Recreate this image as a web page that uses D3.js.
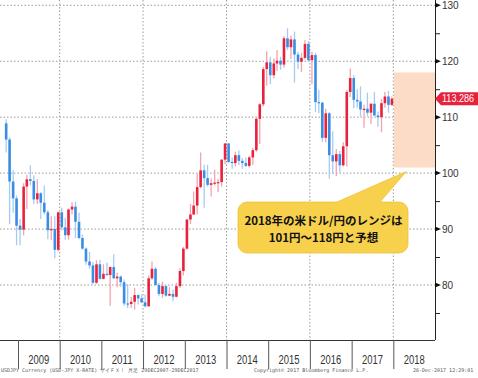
<!DOCTYPE html>
<html>
<head>
<meta charset="utf-8">
<script src="https://cdn.jsdelivr.net/npm/d3@7"></script>
<style>
  body { margin: 0; background: #fff; }
  svg { display: block; }
  .grid line { stroke: #9a9a9a; stroke-dasharray: 1.5,2; }
  .yearLabel { font-family: 'Liberation Sans', Arial, sans-serif; font-size: 12px; fill: #333; }
  .yLabel { font-family: 'Liberation Sans', Arial, sans-serif; font-size: 10px; fill: #333; }
  .footer { font-family: 'DejaVu Sans Mono', monospace; font-size: 5px; fill: #555; }
  .callout { font-family: 'Noto Sans CJK JP', sans-serif; font-size: 11.5px; font-weight: bold; fill: #111; }
</style>
</head>
<body>
<div id="chart"></div>
<script>
'use strict';
// USDJPY monthly candles, Sep 2008 .. Dec 2017
const firstMonth = '2008-09'
const opens = [
  108.9, 106.0, 98.5, 95.5,
  90.6, 89.9, 97.6, 98.9, 98.6, 95.3, 96.4, 94.7, 93.0, 89.8, 90.0, 86.3,      // 2009
  93.0, 90.3, 88.9, 93.5, 94.0, 91.3, 88.4, 86.5, 84.2, 83.5, 80.4, 83.7,      // 2010
  81.1, 82.0, 81.8, 83.2, 81.2, 81.5, 80.5, 76.7, 76.6, 77.0, 78.2, 77.6,      // 2011
  76.9, 76.2, 81.2, 82.9, 80.0, 78.4, 79.8, 78.1, 78.4, 77.9, 79.8, 82.5,      // 2012
  86.5, 91.7, 92.6, 94.2, 97.5, 100.5, 99.1, 97.9, 98.2, 98.3, 98.4, 102.4,    // 2013
  105.3, 102.0, 101.8, 103.2, 102.2, 101.8, 101.3, 102.8, 104.1, 109.7, 112.3, 118.6, // 2014
  119.8, 117.5, 119.6, 120.1, 119.4, 124.1, 122.5, 123.9, 121.2, 119.9, 120.6, 123.1, // 2015
  120.2, 121.1, 112.7, 112.6, 106.3, 110.7, 103.2, 102.1, 103.4, 101.4, 104.8, 114.5, // 2016
  117.0, 113.1, 112.8, 111.4, 111.5, 110.8, 112.4, 110.3, 110.0, 112.5, 113.7, 112.2  // 2017
]
const highs = [
  109.6, 106.4, 100.5, 96.0,
  91.8, 98.2, 99.7, 101.4, 99.6, 98.9, 96.6, 97.8, 93.4, 92.3, 92.3, 93.1,
  93.8, 92.0, 93.7, 94.8, 94.9, 92.9, 89.0, 86.7, 85.9, 84.1, 84.4, 84.5,
  83.7, 84.0, 83.3, 85.5, 82.2, 81.7, 81.0, 80.2, 77.9, 79.5, 78.3, 78.3,
  78.3, 81.7, 84.2, 83.2, 80.4, 80.6, 80.0, 79.6, 79.2, 80.4, 83.0, 86.8,
  91.8, 94.5, 96.7, 99.9, 103.7, 101.5, 101.5, 99.1, 100.6, 99.0, 102.5, 105.4,
  105.4, 102.8, 103.8, 104.1, 102.7, 102.8, 103.1, 104.5, 110.1, 112.5, 119.0, 121.8,
  120.8, 120.5, 122.0, 120.8, 124.5, 125.9, 124.6, 125.3, 121.7, 121.5, 123.8, 123.6,
  121.7, 121.5, 114.9, 112.7, 111.5, 110.9, 107.5, 104.3, 104.0, 105.5, 114.8, 118.7,
  117.5, 115.0, 115.5, 112.2, 114.4, 112.5, 114.5, 111.0, 113.3, 114.5, 114.7, 113.7
]
const lows = [
  103.7, 90.9, 92.9, 87.1,
  87.1, 88.9, 93.6, 97.8, 94.5, 94.5, 91.8, 92.6, 88.2, 88.0, 84.8, 86.0,
  89.8, 88.1, 88.1, 92.6, 88.4, 88.2, 86.3, 83.6, 82.9, 80.2, 80.2, 81.0,
  81.0, 81.6, 76.3, 81.1, 79.6, 79.7, 76.3, 75.9, 75.9, 75.6, 76.5, 76.8,
  76.0, 76.1, 80.9, 79.8, 78.0, 77.7, 77.9, 78.0, 77.1, 77.8, 79.5, 81.7,
  86.3, 90.9, 92.5, 92.6, 97.3, 93.8, 97.6, 95.8, 97.8, 96.6, 97.6, 101.6,
  101.8, 100.8, 101.2, 101.4, 100.8, 101.1, 101.0, 101.5, 103.8, 105.2, 111.9, 115.6,
  115.9, 116.9, 118.3, 118.5, 118.9, 122.0, 120.4, 116.2, 118.6, 118.1, 120.3, 119.9,
  115.9, 110.9, 110.7, 105.6, 105.5, 99.0, 99.9, 99.5, 100.1, 101.2, 101.2, 113.6,
  111.6, 111.7, 110.1, 108.1, 110.2, 108.8, 110.2, 108.3, 107.3, 111.7, 110.8, 112.0
]
const closes = [
  106.0, 98.5, 95.5, 90.6,
  89.9, 97.6, 98.9, 98.6, 95.3, 96.4, 94.7, 93.0, 89.8, 90.0, 86.3, 93.0,
  90.3, 88.9, 93.5, 94.0, 91.3, 88.4, 86.5, 84.2, 83.5, 80.4, 83.7, 81.1,
  82.0, 81.8, 83.2, 81.2, 81.5, 80.5, 76.7, 76.6, 77.0, 78.2, 77.6, 76.9,
  76.2, 81.2, 82.9, 80.0, 78.4, 79.8, 78.1, 78.4, 77.9, 79.8, 82.5, 86.5,
  91.7, 92.6, 94.2, 97.5, 100.5, 99.1, 97.9, 98.2, 98.3, 98.4, 102.4, 105.3,
  102.0, 101.8, 103.2, 102.2, 101.8, 101.3, 102.8, 104.1, 109.7, 112.3, 118.6, 119.8,
  117.5, 119.6, 120.1, 119.4, 124.1, 122.5, 123.9, 121.2, 119.9, 120.6, 123.1, 120.2,
  121.1, 112.7, 112.6, 106.3, 110.7, 103.2, 102.1, 103.4, 101.4, 104.8, 114.5, 117.0,
  113.1, 112.8, 111.4, 111.5, 110.8, 112.4, 110.3, 110.0, 112.5, 113.7, 112.2, 113.3
]
const lastPrice = 113.286
const forecastRange = [101, 118]
const years = [2009, 2010, 2011, 2012, 2013, 2014, 2015, 2016, 2017, 2018]
const gridYears = [2010, 2012, 2014, 2016, 2018]
const yTicks = [80, 90, 100, 110, 120, 130]
const yMinorTicks = [75, 85, 95, 105, 115, 125]
const calloutLines = ['2018年の米ドル/円のレンジは', '101円～118円と予想']
const footerLeft = 'USDJPY Currency (USD-JPY X-RATE) ザイＦＸ！ 月足 29DEC2007-29DEC2017'
const footerMid = 'Copyright© 2017 Bloomberg Finance L.P.'
const footerRight = '26-Dec-2017 12:29:01'

const W = 478, H = 378
const axisX = 435, axisBottom = 340
const upBody = '#e8223d', upWick = '#f2a3ae'
const downBody = '#3a8de2', downWick = '#a6cbf1'

const parseMonth = d3.timeParse('%Y-%m')
const start = parseMonth(firstMonth)
const data = opens.map((o, i) => ({
  date: d3.timeDay.offset(d3.timeMonth.offset(start, i), 14),
  o: o, h: highs[i], l: lows[i], c: closes[i]
}))

const svg = d3.select('#chart').append('svg')
  .attr('width', W)
  .attr('height', H)

const x = d3.scaleTime()
  .domain([new Date(2009, 0, 1), new Date(2019, 0, 1)])
  .range([18, axisX])
const y = d3.scaleLinear()
  .domain([80, 130])
  .range([285, 5.3])

// gridlines
const grid = svg.append('g').attr('class', 'grid')
grid.selectAll('line.h').data(yTicks).enter().append('line')
  .attr('class', 'h')
  .attr('x1', 0).attr('x2', axisX)
  .attr('y1', d => y(d)).attr('y2', d => y(d))
grid.selectAll('line.v').data(gridYears).enter().append('line')
  .attr('class', 'v')
  .attr('x1', d => x(new Date(d, 0, 1))).attr('x2', d => x(new Date(d, 0, 1)))
  .attr('y1', 0).attr('y2', axisBottom)

// forecast range box over 2018
svg.append('rect')
  .attr('x', x(new Date(2018, 0, 1)) + 0.5)
  .attr('y', y(forecastRange[1]))
  .attr('width', axisX - x(new Date(2018, 0, 1)) - 0.5)
  .attr('height', y(forecastRange[0]) - y(forecastRange[1]))
  .attr('fill', '#fcdcc6')

// candles
const candles = svg.append('g')
candles.selectAll('line.wick').data(data).enter().append('line')
  .attr('class', 'wick')
  .attr('x1', d => x(d.date) + 0.5).attr('x2', d => x(d.date) + 0.5)
  .attr('y1', d => y(d.h)).attr('y2', d => y(d.l))
  .attr('stroke', d => d.c >= d.o ? upWick : downWick)
  .attr('stroke-width', 1.3)
candles.selectAll('rect.body').data(data).enter().append('rect')
  .attr('class', 'body')
  .attr('x', d => x(d.date) - 0.8)
  .attr('width', 2.6)
  .attr('y', d => y(Math.max(d.o, d.c)))
  .attr('height', d => Math.max(1.2, Math.abs(y(d.o) - y(d.c))))
  .attr('fill', d => d.c >= d.o ? upBody : downBody)

// right axis
svg.append('line')
  .attr('x1', axisX + 0.5).attr('x2', axisX + 0.5)
  .attr('y1', 0).attr('y2', axisBottom)
  .attr('stroke', '#222')
svg.selectAll('line.minor').data(yMinorTicks).enter().append('line')
  .attr('class', 'minor')
  .attr('x1', axisX).attr('x2', axisX + 5)
  .attr('y1', d => y(d) + 0.5).attr('y2', d => y(d) + 0.5)
  .attr('stroke', '#222')
svg.selectAll('path.major').data(yTicks).enter().append('path')
  .attr('class', 'major')
  .attr('d', d => `M ${axisX} ${y(d) - 2.5} L ${axisX + 6} ${y(d)} L ${axisX} ${y(d) + 2.5} Z`)
  .attr('fill', '#111')
svg.selectAll('text.yLabel').data(yTicks).enter().append('text')
  .attr('class', 'yLabel')
  .attr('x', axisX + 7)
  .attr('y', d => y(d) + 3.5)
  .text(d => d)

// last price tag
const ty = y(lastPrice)
svg.append('path')
  .attr('d', `M ${axisX} ${ty} L ${axisX + 6} ${ty - 6.5} L ${W} ${ty - 6.5} L ${W} ${ty + 6.5} L ${axisX + 6} ${ty + 6.5} Z`)
  .attr('fill', upBody)
svg.append('text')
  .attr('x', axisX + 7)
  .attr('y', ty + 3.6)
  .attr('fill', '#fff')
  .attr('textLength', 32)
  .attr('lengthAdjust', 'spacingAndGlyphs')
  .style('font-family', "'Liberation Sans', Arial, sans-serif")
  .style('font-size', '10px')
  .text(lastPrice.toFixed(3))

// bottom axis
svg.append('line')
  .attr('x1', 0).attr('x2', axisX)
  .attr('y1', axisBottom + 0.5).attr('y2', axisBottom + 0.5)
  .attr('stroke', '#333')
svg.selectAll('line.yearTick').data(years).enter().append('line')
  .attr('class', 'yearTick')
  .attr('x1', d => x(new Date(d, 0, 1)) + 0.5).attr('x2', d => x(new Date(d, 0, 1)) + 0.5)
  .attr('y1', axisBottom).attr('y2', 369)
  .attr('stroke', '#555')
svg.selectAll('text.yearLabel').data(years).enter().append('text')
  .attr('class', 'yearLabel')
  .attr('text-anchor', 'middle')
  .attr('x', d => (x(new Date(d, 0, 1)) + x(new Date(d + 1, 0, 1))) / 2)
  .attr('y', 364)
  .attr('textLength', 21)
  .attr('lengthAdjust', 'spacingAndGlyphs')
  .text(d => d)

// footer
svg.append('text').attr('class', 'footer')
  .attr('x', 1).attr('y', 372)
  .text(footerLeft)
svg.append('text').attr('class', 'footer')
  .attr('x', 254).attr('y', 372)
  .text(footerMid)
svg.append('text').attr('class', 'footer')
  .attr('x', 413).attr('y', 372)
  .text(footerRight)

// callout bubble
const bx0 = 238, bx1 = 408, by0 = 202, by1 = 253, r = 9
const tip = [x(new Date(2018, 0, 1)) + 13, y(forecastRange[0]) + 4]
const p = d3.path()
p.moveTo(bx0 + r, by0)
p.lineTo(337, by0)
p.lineTo(tip[0], tip[1])
p.lineTo(380, by0)
p.lineTo(bx1 - r, by0)
p.arcTo(bx1, by0, bx1, by0 + r, r)
p.lineTo(bx1, by1 - r)
p.arcTo(bx1, by1, bx1 - r, by1, r)
p.lineTo(bx0 + r, by1)
p.arcTo(bx0, by1, bx0, by1 - r, r)
p.lineTo(bx0, by0 + r)
p.arcTo(bx0, by0, bx0 + r, by0, r)
p.closePath()
svg.append('path')
  .attr('d', p.toString())
  .attr('fill', '#f7d04c')
  .attr('stroke', '#ecc23a')
  .attr('stroke-width', 0.8)
svg.selectAll('text.callout').data(calloutLines).enter().append('text')
  .attr('class', 'callout')
  .attr('text-anchor', 'middle')
  .attr('x', 323.5)
  .attr('y', (d, i) => 224.5 + i * 17)
  .text(d => d)
</script>
</body>
</html>
